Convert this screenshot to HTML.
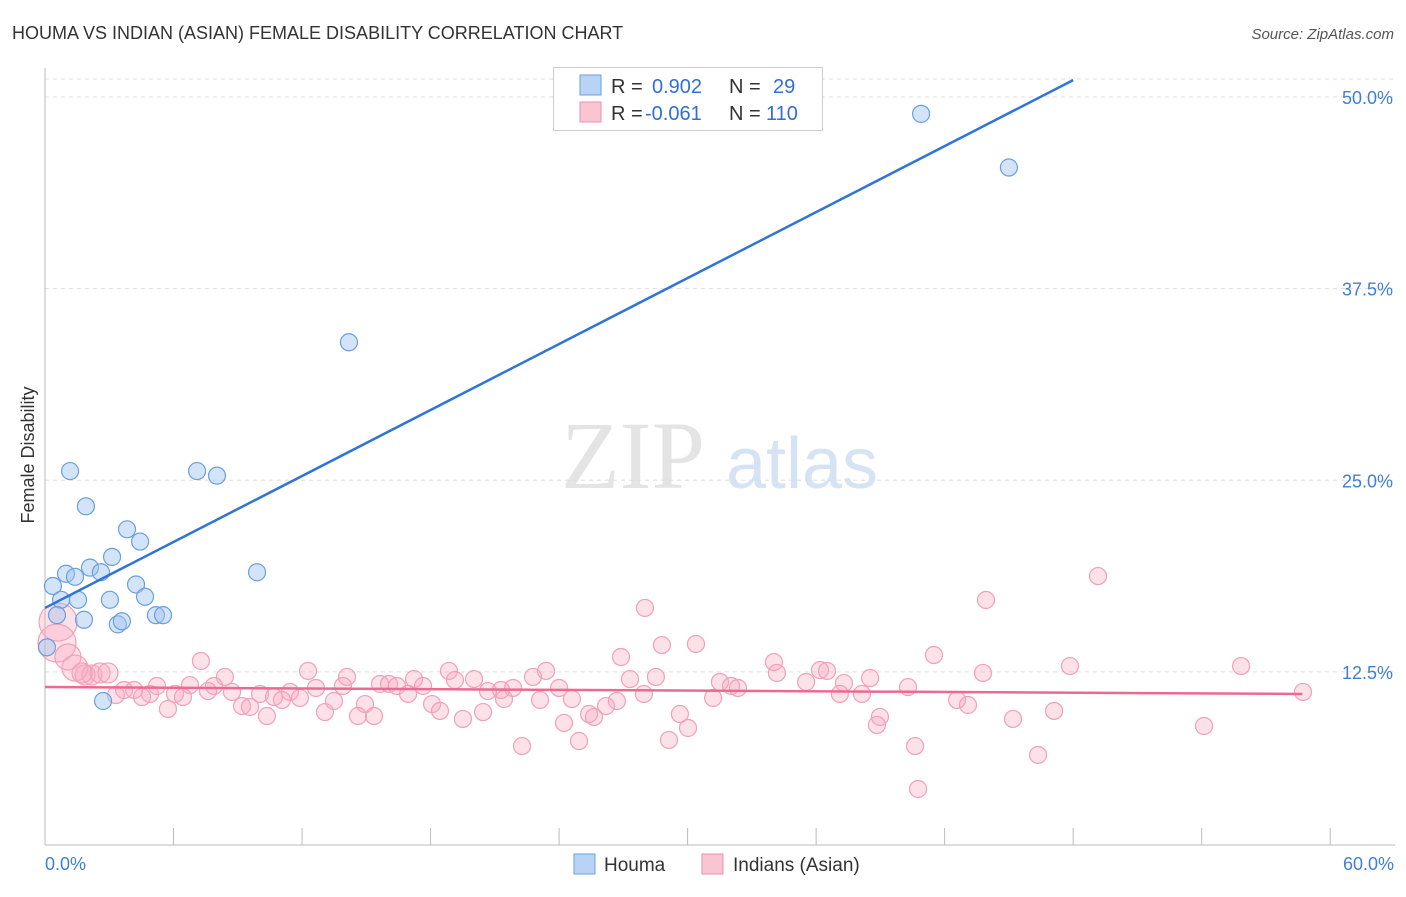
<!DOCTYPE html>
<html><head><meta charset="utf-8"><style>
body{margin:0;background:#fff;font-family:"Liberation Sans",sans-serif}
</style></head><body>
<svg id="c" width="1406" height="892" xmlns="http://www.w3.org/2000/svg">
<text x="12" y="39" font-size="18" fill="#333">HOUMA VS INDIAN (ASIAN) FEMALE DISABILITY CORRELATION CHART</text>
<text x="1394" y="39" font-size="15" fill="#555" font-style="italic" text-anchor="end">Source: ZipAtlas.com</text>
<g><text x="633" y="488" font-family="Liberation Serif" font-size="96" fill="#e4e4e4" text-anchor="middle">ZIP</text><text x="802" y="488" font-size="72" fill="#d5e3f5" text-anchor="middle">atlas</text></g>
<g id="grid"></g><g id="axes"></g><g id="marks"></g>
<text transform="translate(34,455) rotate(-90)" font-size="18" fill="#333" text-anchor="middle">Female Disability</text>
<g>
<rect x="553.5" y="67.5" width="269" height="63" fill="#fff" stroke="#ccc"/>
<rect x="580" y="75" width="21" height="20" fill="#b8d3f5" stroke="#6a9fe0"/>
<rect x="580" y="102" width="21" height="20" fill="#fac5d3" stroke="#ee90aa"/>
<text x="611" y="93" font-size="20" fill="#333">R = <tspan fill="#3070d0" x="652">0.902</tspan><tspan x="729" fill="#333">N = </tspan><tspan fill="#3070d0" x="773">29</tspan></text>
<text x="611" y="120" font-size="20" fill="#333">R = <tspan fill="#3070d0" x="645">-0.061</tspan><tspan x="729" fill="#333">N = </tspan><tspan fill="#3070d0" x="766">110</tspan></text>
</g>
<g>
<rect x="574" y="854" width="21" height="20" fill="#b8d3f5" stroke="#6a9fe0"/>
<text x="604" y="871" font-size="19" fill="#333">Houma</text>
<rect x="702" y="854" width="21" height="20" fill="#fac5d3" stroke="#ee90aa"/>
<text x="733" y="871" font-size="19" fill="#333">Indians (Asian)</text>
</g>
</svg>
<script>
const yTicks=[12.5,25,37.5,50];
const yTickLabels=["12.5%","25.0%","37.5%","50.0%"];
const xLabels=["0.0%","60.0%"];
const houmaX=[1.17,1.91,7.1,8.03,3.83,4.44,3.13,2.1,2.61,0.98,1.4,0.37,4.25,0.75,1.54,3.03,4.67,0.56,1.82,5.18,5.51,3.4,3.59,9.9,14.19,40.9,45.0,0.09,2.71];
const houmaY=[25.6,23.3,25.6,25.3,21.8,21.0,20.0,19.3,19.0,18.9,18.7,18.1,18.2,17.2,17.2,17.2,17.4,16.2,15.9,16.2,16.2,15.6,15.8,19.0,34.0,48.9,45.4,14.1,10.6];
const indX=[0.61,0.56,1.07,1.4,1.87,2.19,2.57,2.94,1.73,28.01,49.16,43.93,28.8,30.39,7.28,26.89,41.5,34.03,36.18,36.51,47.85,55.84,12.28,18.86,23.39,43.79,14.1,8.4,17.23,20.03,28.52,35.53,38.52,22.78,27.31,19.14,31.51,34.17,32.03,32.35,37.3,3.69,4.16,5.23,6.77,7.89,11.44,12.65,13.91,15.64,16.06,16.43,17.65,20.68,21.29,21.85,24.0,40.29,58.73,4.9,3.31,4.53,6.07,6.44,7.61,8.73,10.04,10.69,11.9,11.06,16.95,21.43,23.11,24.6,26.7,27.96,31.19,37.11,38.14,42.58,13.49,18.07,43.09,26.19,14.94,5.74,9.2,9.57,10.36,13.07,14.61,15.36,18.44,19.51,20.45,25.4,25.63,24.23,29.64,38.98,38.84,45.19,47.11,54.11,30.02,29.13,22.27,24.93,40.62,46.36,40.76];
const indY=[15.75,14.38,13.47,12.75,12.3,12.3,12.43,12.43,12.43,16.67,18.75,17.19,14.25,14.32,13.21,13.47,13.6,13.14,12.62,12.56,12.88,12.88,12.56,12.56,12.56,12.43,12.17,12.17,12.03,12.03,12.17,11.84,12.1,12.17,12.03,11.97,11.84,12.43,11.58,11.45,11.77,11.32,11.32,11.58,11.64,11.58,11.19,11.45,11.58,11.71,11.71,11.58,11.58,11.25,11.32,11.45,11.45,11.51,11.19,11.06,10.99,10.86,11.06,10.86,11.25,11.19,11.06,10.86,10.8,10.67,11.06,10.73,10.67,10.73,10.6,11.06,10.8,11.06,11.06,10.67,10.6,10.4,10.34,10.27,10.4,10.08,10.27,10.21,9.62,9.88,9.62,9.62,9.95,9.43,9.88,9.75,9.56,9.17,9.75,9.56,9.04,9.43,9.95,8.97,8.84,8.06,7.66,7.99,7.66,7.08,4.86];
const houmaLine=[[0,16.67],[48,51.1]];
const indLine=[[0,11.51],[58.7,11.06]];
const X0=45,XS=21.42,Y0=863.5,YS=15.33;
const sx=v=>X0+v*XS, sy=v=>Y0-v*YS;
const NS="http://www.w3.org/2000/svg";
function mk(t,a,p){const e=document.createElementNS(NS,t);for(const k in a)e.setAttribute(k,a[k]);p.appendChild(e);return e;}
const gridG=document.getElementById('grid'),axesG=document.getElementById('axes'),marksG=document.getElementById('marks');
yTicks.forEach((v,i)=>{
 const l=mk('line',{x1:45,x2:1395,y1:sy(v),y2:sy(v),stroke:'#ddd','stroke-dasharray':'4,4'},gridG);
 
 
 const t=mk('text',{x:1393,y:sy(v)+7,'font-size':18,fill:'#3f7fd8','text-anchor':'end'},axesG);
 t.textContent=yTickLabels[i];
 
 
});
const topLine=mk('line',{x1:45,x2:1395,y1:79,y2:79,stroke:'#ddd','stroke-dasharray':'4,4'},gridG);


const ya=mk('line',{x1:45,x2:45,y1:68,y2:845,stroke:'#bbb'},axesG);


const xa=mk('line',{x1:45,x2:1395,y1:845,y2:845,stroke:'#bbb'},axesG);


for(let i=0;i<=10;i++){const t=mk('line',{x1:sx(i*6),x2:sx(i*6),y1:828,y2:845,stroke:'#bbb'},axesG);
 
 }
[[0,'start',45],[60,'end',1394]].forEach((d,i)=>{const t=mk('text',{x:d[2],y:870,'font-size':18,fill:'#3f7fd8','text-anchor':d[1]},axesG);t.textContent=xLabels[i];
 
 });
indX.forEach((v,i)=>{const r=i<2?19:(i<4?13:(i<9?10:8.5));const c=mk('circle',{cx:sx(v),cy:sy(indY[i]),r:r,fill:'rgba(248,170,192,0.35)',stroke:'#f0a0b8','stroke-width':1.2},marksG);
 
 });
houmaX.forEach((v,i)=>{const c=mk('circle',{cx:sx(v),cy:sy(houmaY[i]),r:8.5,fill:'rgba(160,196,240,0.45)',stroke:'#6a9fe0','stroke-width':1.2},marksG);
 
 });
const hl=mk('line',{x1:sx(houmaLine[0][0]),y1:sy(houmaLine[0][1]),x2:sx(houmaLine[1][0]),y2:sy(houmaLine[1][1]),stroke:'#2f74d6','stroke-width':2.5},marksG);


const il=mk('line',{x1:sx(indLine[0][0]),y1:sy(indLine[0][1]),x2:sx(indLine[1][0]),y2:sy(indLine[1][1]),stroke:'#ec6a92','stroke-width':2.5},marksG);


</script>
</body></html>
